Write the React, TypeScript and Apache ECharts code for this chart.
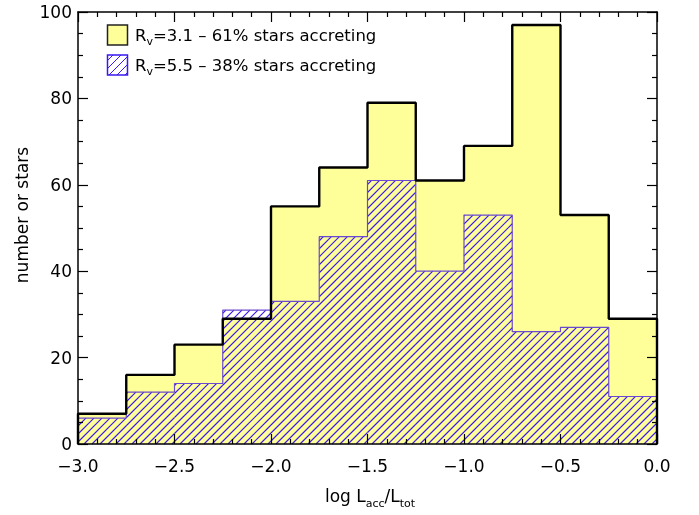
import React, { useEffect, useRef } from "react";
import * as echarts from "echarts";

// Histogram bins of log L_acc/L_tot (left edges, width 0.25)
const binEdges = [-3.0, -2.75, -2.5, -2.25, -2.0, -1.75, -1.5, -1.25, -1.0, -0.75, -0.5, -0.25];
const binWidth = 0.25;
// Number of stars per bin for each extinction law
const countsRv31 = [7, 16, 23, 29, 55, 64, 79, 61, 69, 97, 53, 29];
const countsRv55 = [6, 12, 14, 31, 33, 48, 61, 40, 53, 26, 27, 11];

const legendRv31 = { name: "3.1", pct: "61% stars accreting" };
const legendRv55 = { name: "5.5", pct: "38% stars accreting" };

const FONT = '"DejaVu Sans", sans-serif';
const YELLOW = "#ffff99";
const HATCH = "#3a18f0";
const HATCH_EDGE = "#6a4ad0";
const HATCH_STEP = 8;

// Closed step outline of a histogram: starts and ends on the baseline
function stepPoints(counts: number[]): [number, number][] {
  const pts: [number, number][] = [[binEdges[0], 0]];
  counts.forEach((c, i) => pts.push([binEdges[i], c]));
  const end = binEdges[binEdges.length - 1] + binWidth;
  pts.push([end, counts[counts.length - 1]]);
  pts.push([end, 0]);
  return pts;
}

// One-pixel diagonal hatch tile (legend swatch)
function hatchPattern() {
  const s = HATCH_STEP;
  const cv = document.createElement("canvas");
  cv.width = s;
  cv.height = s;
  const ctx = cv.getContext("2d")!;
  ctx.fillStyle = HATCH;
  for (let i = 0; i < s; i++) ctx.fillRect(i, s - 1 - i, 1, 1);
  return { image: cv.toDataURL(), repeat: "repeat", imageWidth: s, imageHeight: s };
}

// Diagonal (slope +1 on screen) segments clipped to a pixel rectangle
function hatchSegments(x0: number, y0: number, x1: number, y1: number, step: number) {
  const segs: number[][] = [];
  // lines: x + y = c
  const cStart = Math.ceil((x0 + y0) / step) * step;
  for (let c = cStart; c <= x1 + y1; c += step) {
    // intersection of x + y = c with the rectangle
    const xa = Math.max(x0, c - y1);
    const xb = Math.min(x1, c - y0);
    if (xb - xa <= 0.01) continue;
    segs.push([xa, c - xa, xb, c - xb]);
  }
  return segs;
}

function measure(text: string, size: number) {
  const ctx = document.createElement("canvas").getContext("2d")!;
  ctx.font = `${size}px ${FONT}`;
  return ctx.measureText(text).width;
}

// Text with subscripts laid out as consecutive pieces
function subText(parts: { t: string; sub?: boolean }[], x: number, y: number, size: number, subSize: number, align: "left" | "center") {
  const widths = parts.map((p) => measure(p.t, p.sub ? subSize : size));
  const total = widths.reduce((a, b) => a + b, 0);
  let cx = align === "center" ? x - total / 2 : x;
  return parts.map((p, i) => {
    const el = {
      type: "text",
      x: cx,
      y: p.sub ? y + size * 0.42 : y,
      style: {
        text: p.t,
        font: `${p.sub ? subSize : size}px ${FONT}`,
        fill: "#000",
        textAlign: "left",
        textVerticalAlign: "middle",
      },
      z: 20,
    };
    cx += widths[i];
    return el;
  });
}

export default function App() {
  const ref = useRef<HTMLDivElement>(null);

  useEffect(() => {
    if (!ref.current) return;
    const chart = echarts.init(ref.current, undefined, { renderer: "svg" });
    const pattern = hatchPattern();
    const fmtX = (v: number) => v.toFixed(1).replace("-", "\u2212");

    const axisCommon = {
      z: 10,
      axisLine: { show: true, onZero: false, lineStyle: { color: "#000", width: 1.5 } },
      axisTick: { show: true, inside: true, length: 10, lineStyle: { color: "#000", width: 1.2 } },
      minorTick: { show: true, length: 5, lineStyle: { color: "#000", width: 1.2 } },
      splitLine: { show: false },
      minorSplitLine: { show: false },
    };

    const xBase = { ...axisCommon, type: "value", min: -3, max: 0, interval: 0.5, minorTick: { ...axisCommon.minorTick, splitNumber: 5 } };
    const yBase = { ...axisCommon, type: "value", min: 0, max: 100, interval: 20, minorTick: { ...axisCommon.minorTick, splitNumber: 4 } };

    const legendRows = [
      { y: 35, fill: YELLOW, stroke: "#222", info: legendRv31 },
      { y: 65, fill: pattern, stroke: HATCH, info: legendRv55 },
    ];
    const legendGraphics: any[] = [];
    legendRows.forEach((r) => {
      legendGraphics.push({
        type: "rect",
        shape: { x: 107.5, y: r.y - 10, width: 20, height: 20 },
        style: { fill: r.fill, stroke: r.stroke, lineWidth: 1.5 },
        z: 20,
      });
      legendGraphics.push(
        ...subText(
          [{ t: "R" }, { t: "v", sub: true }, { t: `=${r.info.name} \u2013 ${r.info.pct}` }],
          135, r.y, 16.5, 11, "left"
        )
      );
    });

    // one data item per bin: [left edge, right edge, count]
    const hatchBins = countsRv55.map((c, i) => [binEdges[i], binEdges[i] + binWidth, c]);

    chart.setOption({
      animation: false,
      grid: { left: 78, right: 42, top: 12, bottom: 71 },
      xAxis: [
        { ...xBase, position: "bottom", axisLabel: { color: "#000", fontSize: 17, fontFamily: FONT, margin: 13, formatter: fmtX } },
        { ...xBase, position: "top", axisLabel: { show: false } },
      ],
      yAxis: [
        { ...yBase, position: "left", axisLabel: { color: "#000", fontSize: 17, fontFamily: FONT, margin: 6 } },
        { ...yBase, position: "right", axisLabel: { show: false } },
      ],
      series: [
        {
          name: "Rv=3.1 fill",
          type: "line",
          step: "end",
          data: stepPoints(countsRv31),
          symbol: "none",
          lineStyle: { width: 0 },
          areaStyle: { color: YELLOW, opacity: 1 },
          z: 1,
        },
        {
          name: "Rv=5.5 hatch",
          type: "custom",
          data: hatchBins,
          encode: { x: [0, 1], y: 2 },
          renderItem: (params: any, api: any) => {
            const p0 = api.coord([api.value(0), 0]);
            const p1 = api.coord([api.value(1), api.value(2)]);
            const segs = hatchSegments(p0[0], p1[1], p1[0], p0[1], HATCH_STEP);
            return {
              type: "group",
              children: segs.map((s) => ({
                type: "line",
                shape: { x1: s[0], y1: s[1], x2: s[2], y2: s[3] },
                style: { stroke: HATCH, lineWidth: 1.1 },
              })),
            };
          },
          z: 2,
        },
        {
          name: "Rv=5.5",
          type: "line",
          step: "end",
          data: stepPoints(countsRv55),
          symbol: "none",
          lineStyle: { color: HATCH_EDGE, width: 1.2 },
          z: 2,
        },
        {
          name: "Rv=3.1",
          type: "line",
          step: "end",
          data: stepPoints(countsRv31),
          symbol: "none",
          lineStyle: { color: "#000", width: 2.4 },
          z: 3,
        },
      ],
      graphic: [
        ...legendGraphics,
        ...subText(
          [{ t: "log L" }, { t: "acc", sub: true }, { t: "/L" }, { t: "tot", sub: true }],
          370, 496, 17, 11, "center"
        ),
        {
          type: "text",
          x: 22,
          y: 215,
          rotation: Math.PI / 2,
          style: {
            text: "number or stars",
            font: `17px ${FONT}`,
            fill: "#000",
            textAlign: "center",
            textVerticalAlign: "middle",
          },
          z: 20,
        },
      ],
    });
    return () => chart.dispose();
  }, []);

  return <div ref={ref} style={{ position: "fixed", left: 0, top: 0, width: 699, height: 515 }} />;
}
